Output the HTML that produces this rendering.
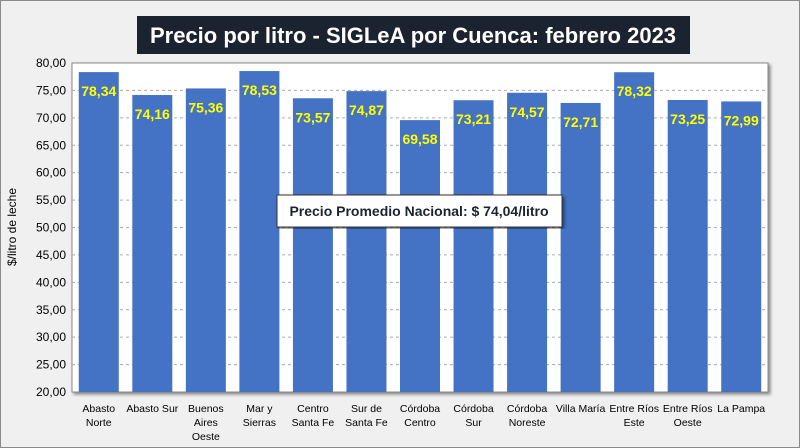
<!DOCTYPE html>
<html><head><meta charset="utf-8"><style>
body{margin:0;width:800px;height:448px;overflow:hidden;background:#fff;font-family:"Liberation Sans",sans-serif}
#wrap{position:absolute;left:0;top:0;width:798px;height:446px;border:1px solid #8a8a8a;background:#f0f0f0}
svg{position:absolute;left:0;top:0}
</style></head><body>
<div id="wrap"></div>
<svg id="c" width="800" height="448">
<defs><filter id="sh" x="-5%" y="-5%" width="110%" height="110%"><feDropShadow dx="2" dy="2" stdDeviation="1.5" flood-color="#000" flood-opacity="0.45"/></filter></defs>
</svg>
<script>
const categories=[["Abasto","Norte"],["Abasto Sur"],["Buenos","Aires","Oeste"],["Mar y","Sierras"],["Centro","Santa Fe"],["Sur de","Santa Fe"],["Córdoba","Centro"],["Córdoba","Sur"],["Córdoba","Noreste"],["Villa María"],["Entre Ríos","Este"],["Entre Ríos","Oeste"],["La Pampa"]];
const values=[78.34,74.16,75.36,78.53,73.57,74.87,69.58,73.21,74.57,72.71,78.32,73.25,72.99];
const labels=["78,34","74,16","75,36","78,53","73,57","74,87","69,58","73,21","74,57","72,71","78,32","73,25","72,99"];
const ticks=[20,25,30,35,40,45,50,55,60,65,70,75,80];
const tickLabels=["20,00","25,00","30,00","35,00","40,00","45,00","50,00","55,00","60,00","65,00","70,00","75,00","80,00"];
const X0=72,X1=768,Y0=392,Y1=63,YMIN=20,YMAX=80;
const y=v=>Y0-(v-YMIN)/(YMAX-YMIN)*(Y0-Y1);
const bw=(X1-X0)/values.length;
const xc=i=>X0+bw*(i+0.5);
const svg=document.getElementById('c');const NS='http://www.w3.org/2000/svg';
function mk(t,a,p){const e=document.createElementNS(NS,t);for(const k in a)e.setAttribute(k,a[k]);(p||svg).appendChild(e);return e;}
const plot=mk('rect',{x:X0,y:Y1,width:X1-X0,height:Y0-Y1,fill:'#fff',stroke:'#888','stroke-width':1,filter:'url(#sh)'});


ticks.forEach((t,i)=>{
 if(t>YMIN&&t<YMAX){const g=mk('line',{x1:X0,x2:X1,y1:y(t),y2:y(t),stroke:'#aaa','stroke-dasharray':'3,3'});
 
 }
 const l=mk('text',{x:66,y:y(t)+4,'text-anchor':'end','font-size':12,fill:'#000'});l.textContent=tickLabels[i];
 
 
});
values.forEach((v,i)=>{
 const r=mk('rect',{x:xc(i)-20,y:y(v),width:40,height:Y0-y(v),fill:'#4472c4'});
 
 
 const t=mk('text',{x:xc(i),y:y(v)+24,'text-anchor':'middle','font-size':14,'font-weight':'bold',fill:'#ffff00'});t.textContent=labels[i];
 
 
 categories[i].forEach((s,j)=>{const c=mk('text',{x:xc(i),y:412+j*14,'text-anchor':'middle','font-size':10.5,fill:'#000'});c.textContent=s;
 
 });
});
const yt=mk('text',{x:0,y:0,transform:'translate(16,227) rotate(-90)','text-anchor':'middle','font-size':12,fill:'#000'});yt.textContent='$/litro de leche';


const tb=mk('rect',{x:137,y:16,width:553,height:38,fill:'#1c2330'});


const tt=mk('text',{x:413,y:43,'text-anchor':'middle','font-size':22,'font-weight':'bold',fill:'#fff'});tt.textContent='Precio por litro - SIGLeA por Cuenca: febrero 2023';


const ab=mk('rect',{x:277,y:195,width:285,height:32,fill:'#fff',stroke:'#333','stroke-width':1,filter:'url(#sh)'});


const at=mk('text',{x:419,y:216,'text-anchor':'middle','font-size':14,'font-weight':'bold',fill:'#1c2330'});at.textContent='Precio Promedio Nacional: $ 74,04/litro';


</script>
</body></html>
